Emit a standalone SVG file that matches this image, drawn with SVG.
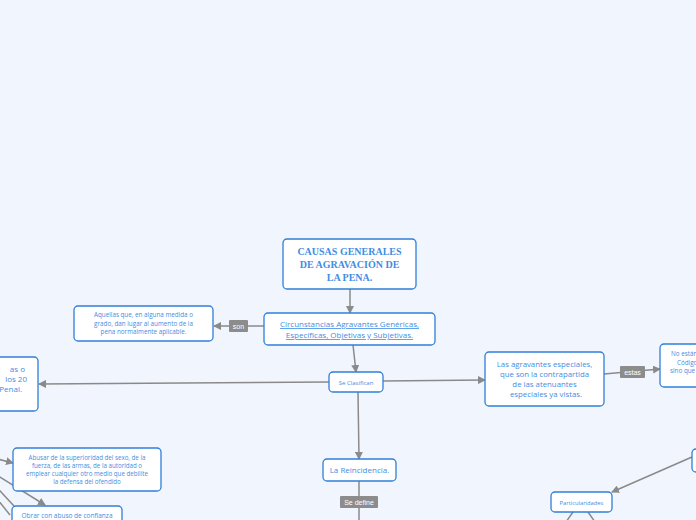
<svg xmlns="http://www.w3.org/2000/svg" width="696" height="520" viewBox="0 0 696 520">
<defs>
<marker id="arr" markerWidth="8" markerHeight="8" refX="7" refY="4" orient="auto" markerUnits="userSpaceOnUse">
<path d="M0,0 L8,4 L0,8 z" fill="#8a8a8a"/>
</marker>
<style>
.node{fill:#ffffff;stroke:#2f7fd8;stroke-width:1.3}
.t{font-family:"Open Sans","Liberation Sans",sans-serif;fill:#3f8de3;text-anchor:middle}
.root{font-family:"Liberation Serif","DejaVu Serif",serif;font-weight:bold;fill:#3f8de3;text-anchor:middle;font-size:10px}
.c{stroke:#8a8a8a;stroke-width:1.5;fill:none}
.lb{fill:#8c8c8c}
.lt{font-family:"Liberation Sans",Arial,sans-serif;font-size:7px;fill:#ffffff;text-anchor:middle}
</style>
</defs>
<rect width="696" height="520" fill="#f1f5fe"/>
<g id="connectors">
<line class="c" x1="350" y1="289" x2="350" y2="313" marker-end="url(#arr)"/>
<line class="c" x1="264" y1="326" x2="214" y2="326" marker-end="url(#arr)"/>
<line class="c" x1="353" y1="345" x2="356" y2="372" marker-end="url(#arr)"/>
<line class="c" x1="329" y1="382" x2="39" y2="384" marker-end="url(#arr)"/>
<line class="c" x1="383" y1="381" x2="485" y2="380" marker-end="url(#arr)"/>
<line class="c" x1="604" y1="374" x2="660" y2="369" marker-end="url(#arr)"/>
<line class="c" x1="358" y1="392" x2="359" y2="459" marker-end="url(#arr)"/>
<line class="c" x1="359" y1="481" x2="359" y2="522"/>
<line class="c" x1="692" y1="457" x2="612" y2="492" marker-end="url(#arr)"/>
<line class="c" x1="573" y1="512" x2="566" y2="522"/>
<line class="c" x1="588" y1="512" x2="595" y2="522"/>
<line class="c" x1="-10" y1="457" x2="13" y2="463" marker-end="url(#arr)"/>
<line class="c" x1="-10" y1="471" x2="45" y2="505" marker-end="url(#arr)"/>
<line class="c" x1="-10" y1="480" x2="14" y2="506"/>
<line class="c" x1="-10" y1="490" x2="10" y2="515"/>
<rect class="lb" x="229" y="320" width="19" height="12" rx="1"/>
<text class="lt" x="238.5" y="328.5">son</text>
<rect class="lb" x="620" y="366" width="25" height="12" rx="1"/>
<text class="lt" x="632.5" y="374.5">estas</text>
<rect class="lb" x="340" y="496" width="38" height="12" rx="1"/>
<text class="lt" x="359" y="504.5">Se define</text>
</g>
<g id="root">
<rect class="node" x="283" y="239" width="133" height="50" rx="4"/>
<text class="root" x="349.5" y="255">CAUSAS GENERALES</text>
<text class="root" x="349.5" y="268">DE AGRAVACIÓN DE</text>
<text class="root" x="349.5" y="281">LA PENA.</text>
</g>
<g id="circunstancias">
<rect class="node" x="264" y="313" width="171" height="32" rx="4"/>
<text class="t" x="349.5" y="327" font-size="8" text-decoration="underline">Circunstancias Agravantes Genéricas, </text>
<text class="t" x="349.5" y="338" font-size="8" text-decoration="underline">Específicas, Objetivas y Subjetivas.</text>
</g>
<g id="aquellas">
<rect class="node" x="74" y="306" width="139" height="35" rx="4"/>
<text class="t" x="143.5" y="317" font-size="6.3">Aquellas que, en alguna medida o</text>
<text class="t" x="143.5" y="325.5" font-size="6.3">grado, dan lugar al aumento de la</text>
<text class="t" x="143.5" y="334" font-size="6.3">pena normalmente aplicable.</text>
</g>
<g id="seclasifican">
<rect class="node" x="329" y="372" width="54" height="20" rx="4"/>
<text class="t" x="356" y="384.5" font-size="6">Se Clasifican</text>
</g>
<g id="izquierda">
<rect class="node" x="-60" y="357" width="98" height="54" rx="4"/>
<text class="t" x="25" y="372" font-size="8" style="text-anchor:end">as o</text>
<text class="t" x="27" y="382" font-size="8" style="text-anchor:end">los 20</text>
<text class="t" x="22" y="392" font-size="8" style="text-anchor:end">Penal.</text>
</g>
<g id="agravantes">
<rect class="node" x="485" y="352" width="119" height="54" rx="4"/>
<text class="t" x="544.5" y="367" font-size="7.8">Las agravantes especiales,</text>
<text class="t" x="544.5" y="377" font-size="7.8">que son la contrapartida</text>
<text class="t" x="544.5" y="387" font-size="7.8">de las atenuantes</text>
<text class="t" x="546" y="397" font-size="7.8">especiales ya vistas.</text>
</g>
<g id="derecha">
<rect class="node" x="660" y="344" width="80" height="43" rx="4"/>
<text class="t" x="671" y="356" font-size="6.3" style="text-anchor:start">No están</text>
<text class="t" x="677" y="364.5" font-size="6.3" style="text-anchor:start">Código</text>
<text class="t" x="670" y="373" font-size="6.3" style="text-anchor:start">sino que</text>
</g>
<g id="reincidencia">
<rect class="node" x="323" y="459" width="73" height="22" rx="4"/>
<text class="t" x="359.5" y="473" font-size="8">La Reincidencia.</text>
</g>
<g id="derecha2">
<rect class="node" x="692" y="449" width="40" height="23" rx="4"/>
</g>
<g id="particularidades">
<rect class="node" x="551" y="492" width="61" height="20" rx="4"/>
<text class="t" x="581.5" y="504.5" font-size="5.8">Particularidades</text>
</g>
<g id="abusar">
<rect class="node" x="13" y="448" width="148" height="43" rx="4"/>
<text class="t" x="87" y="460" font-size="6.2">Abusar de la superioridad del sexo, de la</text>
<text class="t" x="87" y="468" font-size="6.2">fuerza, de las armas, de la autoridad o</text>
<text class="t" x="87" y="476" font-size="6.2">emplear cualquier otro medio que debilite</text>
<text class="t" x="87" y="484" font-size="6.2">la defensa del ofendido</text>
</g>
<g id="obrar">
<rect class="node" x="12" y="506" width="110" height="24" rx="4"/>
<text class="t" x="67" y="518" font-size="6.5">Obrar con abuso de confianza</text>
</g>
</svg>
